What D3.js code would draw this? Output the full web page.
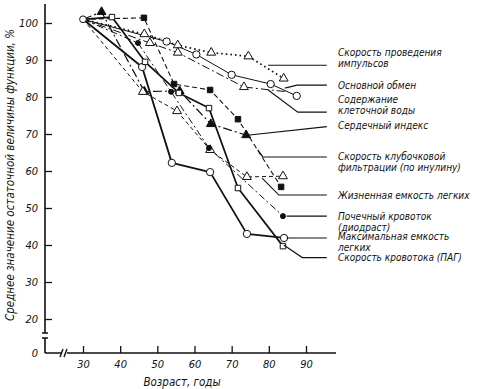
<!DOCTYPE html>
<html>
<head>
<meta charset="utf-8">
<script src="https://cdn.jsdelivr.net/npm/d3@7"></script>
<style>
  body { margin: 0; background: #fff; }
  svg text { font-family: "DejaVu Sans Condensed", "DejaVu Sans", sans-serif; font-style: italic; fill: #111; }
</style>
</head>
<body>
<svg id="chart" width="500" height="389"></svg>
<script>
// значения: [возраст, %]
const nerveCond     = [[30,101],[46.5,97],[55.5,94],[64.5,92],[74.5,91],[84,85]];
const basalMetab    = [[30,101],[52.5,95],[60.5,91.5],[70,86],[80.5,83.5],[87.5,80.3]];
const cellWater     = [[30,101],[48,94.6],[55.5,92],[73.3,82.7],[85,81.4]];
const cardiacIndex  = [[30,101],[35,103],[46.5,81.5],[56,81.6],[64.4,72.7],[73.9,69.7]];
const filtration    = [[30,101],[46.4,101.4],[54.5,83.5],[64.2,81.9],[71.7,74],[83.3,55.7]];
const vitalCap      = [[30,101],[46.1,81.4],[55.3,76.2],[64.2,65.7],[74.1,58.4],[83.8,58.6]];
const renalDiodrast = [[30,101],[44.8,94.6],[53.7,81.4],[63.9,66.2],[83.8,47.8]];
const maxBreathing  = [[30,101],[45.9,88.1],[53.9,62.2],[64.2,59.7],[74.1,43],[84.1,41.9]];
const renalPAH      = [[30,101],[37.8,101.6],[46.7,89.5],[55.8,81.1],[63.9,77],[71.7,55.4],[83.8,39.7]];

const xTicks = [30, 40, 50, 60, 70, 80, 90];
const yTicks = [0, 20, 30, 40, 50, 60, 70, 80, 90, 100];

const labelLines = {
  nerve: ["Скорость проведения", "импульсов"],
  basal: ["Основной обмен"],
  water: ["Содержание", "клеточной воды"],
  cardiac: ["Сердечный индекс"],
  filtr: ["Скорость клубочковой", "фильтрации (по инулину)"],
  vital: ["Жизненная емкость легких"],
  diodr: ["Почечный кровоток", "(диодраст)"],
  maxbr: ["Максимальная емкость", "легких"],
  pah: ["Скорость кровотока (ПАГ)"]
};
// уровни первой строки подписи (в % по оси) и точки выносок [возраст, %]
const labelLevels = { nerve: 91.9, basal: 83.2, water: 79.2, cardiac: 72.2, filtr: 63.8, vital: 53.5, diodr: 47.6, maxbr: 42.2, pah: 36.5 };
const leaderPts = {
  nerve:   [[79.8, 88.6], [95.6, 88.6]],
  basal:   [[84.3, 82.4], [87.6, 83.2], [95.6, 83.2]],
  water:   [[79.8, 81.9], [87.8, 75.9], [95.6, 75.9]],
  cardiac: [[73.6, 69.6], [95.6, 72.0]],
  filtr:   [[77.0, 65.7], [78.4, 63.8], [95.6, 63.8]],
  vital:   [[78.2, 58.1], [82.7, 53.5], [95.6, 53.5]],
  diodr:   [[84.8, 47.8], [95.6, 47.8]],
  maxbr:   [[84.8, 41.9], [95.6, 41.9]],
  pah:     [[84.0, 40.0], [89.0, 36.6], [95.6, 36.6]]
};

const series = [
  { key: "nerve",   data: nerveCond,     marker: "tri",    filled: false, dash: "1.6,3", width: 1.7 },
  { key: "basal",   data: basalMetab,    marker: "circle", filled: false, dash: null,      width: 1 },
  { key: "water",   data: cellWater,     marker: "tri",    filled: false, dash: "8,3,2,3", width: 1, skipLast: true },
  { key: "cardiac", data: cardiacIndex,  marker: "tri",    filled: true,  dash: "9,3,2,3", width: 1.2 },
  { key: "filtr",   data: filtration,    marker: "square", filled: true,  dash: "5,3",     width: 1.1 },
  { key: "vital",   data: vitalCap,      marker: "tri",    filled: false, dash: "4,3",     width: 1 },
  { key: "diodr",   data: renalDiodrast, marker: "dot",    filled: true,  dash: "7,3,2,3", width: 1 },
  { key: "maxbr",   data: maxBreathing,  marker: "circle", filled: false, dash: null,      width: 1.8 },
  { key: "pah",     data: renalPAH,      marker: "square", filled: false, dash: null,      width: 1.7 }
];

const ink = "#111";
const svg = d3.select("#chart");

const x = d3.scaleLinear().domain([30, 90]).range([83, 306]);
// ось с разрывом между 0 и 20
const y = d3.scaleLinear().domain([0, 20, 100]).range([353, 319, 23]);
const axisX = 45;

// ось Y
const gy = svg.append("g").attr("transform", `translate(${axisX},0)`)
  .call(d3.axisLeft(y).tickValues(yTicks).tickSize(-7).tickPadding(7).tickFormat(d3.format("d")));
gy.select(".domain").remove();
gy.selectAll(".tick line").attr("stroke", ink).attr("stroke-width", 1.3)
  .filter(d => d === 0).remove();
gy.selectAll(".tick text").attr("font-size", 11).attr("font-family", null).attr("fill", ink);

svg.append("path")
  .attr("d", `M${axisX},4V333M${axisX - 3},333H${axisX + 3}M${axisX - 3},338H${axisX + 3}M${axisX},338V353`)
  .attr("stroke", ink).attr("stroke-width", 1.6).attr("fill", "none");

// ось X
const gx = svg.append("g").attr("transform", "translate(0,353)")
  .call(d3.axisBottom(x).tickValues(xTicks).tickSize(-7).tickPadding(7).tickFormat(d3.format("d")));
gx.select(".domain").remove();
gx.selectAll(".tick line").attr("stroke", ink).attr("stroke-width", 1.3);
gx.selectAll(".tick text").attr("font-size", 11).attr("font-family", null).attr("fill", ink);

svg.append("path")
  .attr("d", `M${axisX},353H61M67,353H336M60,357L63,349M64,357L67,349`)
  .attr("stroke", ink).attr("stroke-width", 1.4).attr("fill", "none");

// подписи осей
svg.append("text")
  .attr("x", 182).attr("y", 386)
  .attr("text-anchor", "middle").attr("font-size", 11.5)
  .text("Возраст, годы");

svg.append("text")
  .attr("transform", "translate(14,175) rotate(-90)")
  .attr("text-anchor", "middle").attr("font-size", 11.5)
  .text("Среднее значение остаточной величины функции, %");

// линии
const line = d3.line().x(d => x(d[0])).y(d => y(d[1]));

series.forEach(s => {
  svg.append("path")
    .datum(s.data)
    .attr("d", line)
    .attr("fill", "none")
    .attr("stroke", ink)
    .attr("stroke-width", s.width)
    .attr("stroke-dasharray", s.dash)
    .attr("stroke-linejoin", "round");
});

// маркеры
const symbolFor = { tri: d3.symbolTriangle, square: d3.symbolSquare, circle: d3.symbolCircle, dot: d3.symbolCircle };
const sizeFor = { tri: 34, square: 30, circle: 42, dot: 20 };

series.forEach(s => {
  const pts = s.skipLast ? s.data.slice(0, -1) : s.data;
  svg.append("g").selectAll("path")
    .data(pts.slice(1))
    .join("path")
    .attr("transform", d => `translate(${x(d[0])},${y(d[1])})`)
    .attr("d", d3.symbol().type(symbolFor[s.marker]).size(sizeFor[s.marker]))
    .attr("fill", s.filled ? ink : "#fff")
    .attr("stroke", ink)
    .attr("stroke-width", 1);
});

// общая начальная точка
svg.append("path")
  .attr("transform", `translate(${x(nerveCond[0][0])},${y(nerveCond[0][1])})`)
  .attr("d", d3.symbol().type(d3.symbolCircle).size(36))
  .attr("fill", "#fff").attr("stroke", ink).attr("stroke-width", 1);

// выноски и подписи
const leader = d3.line().x(d => x(d[0])).y(d => y(d[1]));
const labelX = 338;

series.forEach(s => {
  svg.append("path")
    .attr("d", leader(leaderPts[s.key]))
    .attr("fill", "none").attr("stroke", ink).attr("stroke-width", 1.1);

  const t = svg.append("text")
    .attr("x", labelX).attr("y", y(labelLevels[s.key]))
    .attr("dy", "0.35em")
    .attr("font-size", 10);
  labelLines[s.key].forEach((txt, i) => {
    t.append("tspan").attr("x", labelX).attr("dy", i === 0 ? "0.35em" : 10.5).text(txt);
  });
});
</script>
</body>
</html>
